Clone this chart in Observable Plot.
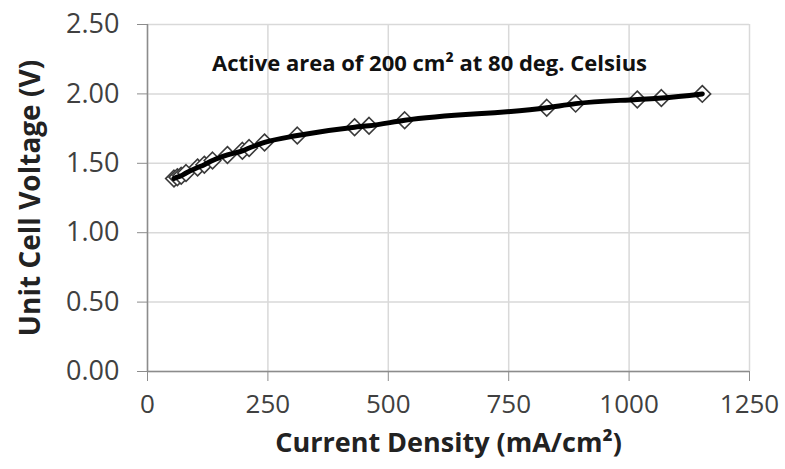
<!DOCTYPE html>
<html>
<head>
<meta charset="utf-8">
<script src="https://cdn.jsdelivr.net/npm/d3@7"></script>
<script src="https://cdn.jsdelivr.net/npm/@observablehq/plot@0.6"></script>
<style>
  html, body { margin: 0; padding: 0; background: #fff; }
  #chart svg { display: block; }
</style>
</head>
<body>
<div id="chart"></div>
<script>
// Polarization curve: current density (mA/cm²) vs. unit cell voltage (V)
const currentDensity = [55, 62, 70, 80, 104, 118, 135, 166, 197, 211, 243, 311, 430, 460, 534, 829, 889, 1017, 1067, 1152];
const cellVoltage    = [1.39, 1.40, 1.41, 1.43, 1.47, 1.49, 1.52, 1.56, 1.59, 1.61, 1.65, 1.70, 1.76, 1.77, 1.81, 1.90, 1.93, 1.96, 1.97, 2.00];

const xTicks = [0, 250, 500, 750, 1000, 1250];
const yTicks = [0, 0.5, 1.0, 1.5, 2.0, 2.5];

const xTitle = "Current Density (mA/cm²)";
const yTitle = "Unit Cell Voltage (V)";
const note = "Active area of 200 cm² at 80 deg. Celsius";

const data = currentDensity.map((x, i) => ({x, y: cellVoltage[i]}));

const font = "'Open Sans', 'DejaVu Sans', sans-serif";

const chart = Plot.plot({
  width: 785,
  height: 469,
  marginLeft: 147,
  marginRight: 36,
  marginTop: 24,
  marginBottom: 98,
  style: {fontFamily: font, background: "#fff"},
  x: {domain: [0, 1250]},
  y: {domain: [0, 2.5]},
  marks: [
    Plot.gridX(xTicks, {stroke: "#d9d9d9", strokeOpacity: 1, strokeWidth: 1.5}),
    Plot.gridY(yTicks, {stroke: "#d9d9d9", strokeOpacity: 1, strokeWidth: 1.5}),
    Plot.axisX({ticks: xTicks, tickSize: 10, tickPadding: 13, fontSize: 26, label: null,
      stroke: "#8c8c8c", fill: "#404040", tickFormat: d => String(d)}),
    Plot.axisY({ticks: yTicks, tickSize: 10, tickPadding: 18, fontSize: 27, label: null,
      stroke: "#8c8c8c", fill: "#404040", tickFormat: d3.format(".2f")}),
    Plot.ruleX([0], {stroke: "#8c8c8c", strokeWidth: 1.5}),
    Plot.ruleY([0], {stroke: "#8c8c8c", strokeWidth: 1.5}),
    Plot.dot(data, {x: "x", y: "y", symbol: "diamond2", r: 7.5, fill: "white", stroke: "#3a3a3a", strokeWidth: 1.6}),
    Plot.line(data, {x: "x", y: "y", curve: "monotone-x", stroke: "#000", strokeWidth: 5}),
    Plot.text([note], {frameAnchor: "top", dx: -19, dy: 31, fontSize: 22, fontWeight: "bold", fill: "#111"}),
    Plot.text([xTitle], {frameAnchor: "bottom", dy: 80, fontSize: 27, fontWeight: "bold", fill: "#222"}),
    Plot.text([yTitle], {frameAnchor: "left", textAnchor: "middle", dx: -116, rotate: -90, fontSize: 28, fontWeight: "bold", fill: "#222"})
  ]
});

document.getElementById("chart").appendChild(chart);
</script>
</body>
</html>
